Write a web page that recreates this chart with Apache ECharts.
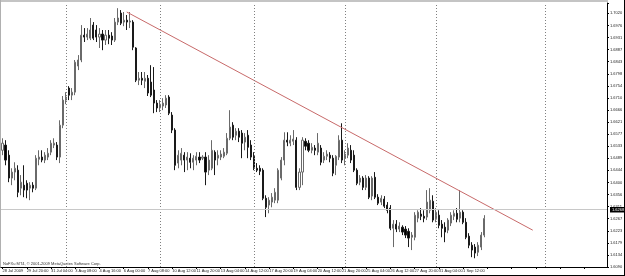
<!DOCTYPE html>
<html><head><meta charset="utf-8">
<script src="https://cdn.jsdelivr.net/npm/echarts@6/dist/echarts.min.js"></script>
<style>html,body{margin:0;padding:0;background:#fff}#c{width:625px;height:276px}</style>
</head><body><div id="c"></div>
<script>
// Tick labels
const xTickLabels = ['28 Jul 2009','29 Jul 20:00','31 Jul 04:00','3 Aug 08:00','4 Aug 16:00','6 Aug 00:00','7 Aug 08:00','10 Aug 12:00','11 Aug 20:00','13 Aug 04:00','14 Aug 12:00','17 Aug 20:00','19 Aug 04:00','20 Aug 12:00','21 Aug 20:00','25 Aug 04:00','26 Aug 12:00','27 Aug 20:00','31 Aug 04:00','1 Sep 12:00'];
const yTickLabels = ['1.6090','1.6134','1.6179','1.6223','1.6267','1.6311','1.6356','1.6400','1.6444','1.6489','1.6533','1.6577','1.6621','1.6666','1.6710','1.6754','1.6798','1.6843','1.6887','1.6931','1.6976','1.7020'];

// H4 candles, one entry per bar
const opens = [1.6518,
1.6537,1.6500,1.6416,1.6438,1.6445,1.6379,1.6390,1.6397,1.6379,1.6390,
1.6379,1.6485,1.6493,1.6482,1.6493,1.6511,1.6537,1.6537,1.6493,1.6610,
1.6702,1.6746,1.6720,1.6731,1.6827,1.6849,1.6940,1.6933,1.6929,1.6977,
1.6959,1.6933,1.6944,1.6922,1.6940,1.6937,1.6922,1.6988,1.7021,1.6988,
1.6995,1.6988,1.6988,1.6893,1.6775,1.6782,1.6771,1.6782,1.6768,1.6739,
1.6691,1.6673,1.6680,1.6684,1.6713,1.6647,1.6592,1.6471,1.6482,1.6500,
1.6482,1.6489,1.6474,1.6482,1.6493,1.6489,1.6493,1.6445,1.6452,1.6511,
1.6489,1.6493,1.6496,1.6507,1.6562,1.6610,1.6573,1.6588,1.6581,1.6548,
1.6573,1.6537,1.6496,1.6452,1.6452,1.6445,1.6342,1.6317,1.6328,1.6335,
1.6335,1.6416,1.6482,1.6555,1.6544,1.6551,1.6555,1.6382,1.6438,1.6551,
1.6544,1.6518,1.6526,1.6511,1.6526,1.6482,1.6496,1.6500,1.6489,1.6463,
1.6493,1.6555,1.6489,1.6500,1.6518,1.6500,1.6445,1.6401,1.6416,1.6382,
1.6416,1.6350,1.6419,1.6346,1.6328,1.6339,1.6317,1.6306,1.6232,1.6247,
1.6229,1.6236,1.6229,1.6221,1.6199,1.6199,1.6269,1.6284,1.6276,1.6273,
1.6298,1.6331,1.6265,1.6280,1.6247,1.6236,1.6225,1.6251,1.6276,1.6287,
1.6269,1.6291,1.6254,1.6203,1.6170,1.6163,1.6144,1.6163,1.6207];
const closes = [1.6544,
1.6482,1.6416,1.6438,1.6452,1.6364,1.6401,1.6372,1.6372,1.6390,1.6379,
1.6489,1.6493,1.6482,1.6500,1.6507,1.6544,1.6544,1.6493,1.6610,1.6702,
1.6713,1.6720,1.6731,1.6841,1.6849,1.6940,1.6933,1.6944,1.6959,1.6929,
1.6933,1.6944,1.6922,1.6940,1.6929,1.6922,1.6988,1.7003,1.6984,1.6995,
1.6988,1.6992,1.6896,1.6775,1.6782,1.6775,1.6782,1.6728,1.6720,1.6691,
1.6673,1.6687,1.6691,1.6709,1.6654,1.6592,1.6463,1.6500,1.6507,1.6482,
1.6493,1.6474,1.6489,1.6496,1.6482,1.6493,1.6438,1.6482,1.6518,1.6482,
1.6500,1.6504,1.6511,1.6562,1.6603,1.6566,1.6588,1.6566,1.6544,1.6566,
1.6529,1.6493,1.6452,1.6445,1.6441,1.6342,1.6309,1.6335,1.6346,1.6364,
1.6445,1.6482,1.6555,1.6548,1.6555,1.6559,1.6382,1.6438,1.6555,1.6533,
1.6518,1.6529,1.6518,1.6544,1.6474,1.6496,1.6504,1.6489,1.6434,1.6496,
1.6555,1.6482,1.6504,1.6526,1.6482,1.6445,1.6397,1.6416,1.6382,1.6416,
1.6346,1.6416,1.6346,1.6324,1.6342,1.6313,1.6298,1.6232,1.6247,1.6229,
1.6240,1.6218,1.6207,1.6196,1.6207,1.6280,1.6291,1.6276,1.6269,1.6328,
1.6335,1.6262,1.6291,1.6243,1.6232,1.6218,1.6262,1.6280,1.6287,1.6265,
1.6291,1.6254,1.6199,1.6170,1.6152,1.6141,1.6170,1.6207,1.6268];
const lows = [1.6500,
1.6463,1.6401,1.6390,1.6408,1.6346,1.6353,1.6346,1.6342,1.6335,1.6364,
1.6372,1.6463,1.6474,1.6471,1.6482,1.6500,1.6526,1.6482,1.6471,1.6599,
1.6687,1.6702,1.6702,1.6720,1.6812,1.6841,1.6915,1.6922,1.6922,1.6922,
1.6915,1.6893,1.6885,1.6904,1.6907,1.6904,1.6915,1.6977,1.6977,1.6973,
1.6959,1.6966,1.6885,1.6768,1.6757,1.6757,1.6746,1.6717,1.6713,1.6654,
1.6658,1.6658,1.6665,1.6673,1.6647,1.6581,1.6445,1.6452,1.6463,1.6438,
1.6445,1.6452,1.6445,1.6463,1.6471,1.6482,1.6390,1.6427,1.6445,1.6427,
1.6463,1.6482,1.6489,1.6500,1.6555,1.6555,1.6555,1.6548,1.6489,1.6518,
1.6489,1.6482,1.6445,1.6438,1.6427,1.6335,1.6273,1.6287,1.6309,1.6324,
1.6324,1.6408,1.6463,1.6533,1.6533,1.6537,1.6372,1.6372,1.6390,1.6518,
1.6511,1.6507,1.6500,1.6500,1.6463,1.6471,1.6482,1.6474,1.6423,1.6427,
1.6482,1.6471,1.6463,1.6489,1.6471,1.6438,1.6390,1.6390,1.6372,1.6372,
1.6339,1.6335,1.6339,1.6317,1.6317,1.6306,1.6287,1.6225,1.6163,1.6218,
1.6218,1.6207,1.6196,1.6163,1.6152,1.6188,1.6254,1.6262,1.6254,1.6262,
1.6287,1.6254,1.6254,1.6232,1.6199,1.6181,1.6214,1.6240,1.6262,1.6254,
1.6254,1.6247,1.6192,1.6159,1.6126,1.6122,1.6130,1.6152,1.6199];
const highs = [1.6562,
1.6555,1.6518,1.6452,1.6474,1.6463,1.6427,1.6463,1.6408,1.6401,1.6401,
1.6500,1.6518,1.6518,1.6511,1.6526,1.6555,1.6562,1.6548,1.6628,1.6717,
1.6731,1.6753,1.6746,1.6849,1.6867,1.6977,1.6966,1.6966,1.7003,1.6988,
1.6977,1.6966,1.6959,1.6959,1.6959,1.6951,1.7003,1.7039,1.7032,1.7025,
1.7014,1.7025,1.6995,1.6896,1.6805,1.6805,1.6805,1.6794,1.6830,1.6823,
1.6702,1.6702,1.6709,1.6720,1.6720,1.6658,1.6599,1.6518,1.6526,1.6511,
1.6511,1.6507,1.6500,1.6511,1.6511,1.6500,1.6511,1.6500,1.6555,1.6518,
1.6518,1.6518,1.6526,1.6581,1.6665,1.6621,1.6599,1.6599,1.6592,1.6581,
1.6592,1.6555,1.6511,1.6471,1.6463,1.6452,1.6353,1.6346,1.6361,1.6379,
1.6452,1.6493,1.6584,1.6584,1.6573,1.6592,1.6566,1.6452,1.6566,1.6562,
1.6555,1.6544,1.6537,1.6581,1.6537,1.6511,1.6518,1.6511,1.6500,1.6500,
1.6573,1.6617,1.6518,1.6544,1.6537,1.6518,1.6452,1.6427,1.6423,1.6427,
1.6423,1.6423,1.6438,1.6357,1.6353,1.6350,1.6328,1.6317,1.6262,1.6262,
1.6254,1.6243,1.6240,1.6232,1.6218,1.6291,1.6298,1.6306,1.6298,1.6372,
1.6379,1.6353,1.6306,1.6298,1.6262,1.6254,1.6269,1.6291,1.6298,1.6306,
1.6372,1.6298,1.6269,1.6214,1.6181,1.6174,1.6181,1.6218,1.6280];

// Week separators (bar slot of first bar of each week) and trendline anchors
const weekStartBars = [21, 52, 83, 113, 143, 179];
const trendLine = [[41, 1.7025], [175, 1.6225]];
const copyrightText = 'NoFXu MT4, \u00A9 2001-2009 MetaQuotes Software Corp.';

const slotCount = 200;
const priceMin = 1.6090, priceMax = 1.7058;
const bid = closes[closes.length - 1];
const categories = Array.from({length: slotCount}, (_, i) => String(i));
const candles = opens.map((o, i) => [o, closes[i], lows[i], highs[i]]);
const labelStep = (parseFloat(yTickLabels[yTickLabels.length - 1]) - parseFloat(yTickLabels[0])) / (yTickLabels.length - 1);
const FONT = 'Liberation Sans';

const chart = echarts.init(document.getElementById('c'), null, {renderer: 'canvas'});
chart.setOption({
  animation: false,
  backgroundColor: '#ffffff',
  grid: {left: 1, right: 18, top: 3, bottom: 9, containLabel: false, outerBoundsMode: 'none'},
  xAxis: {
    type: 'category', data: categories, boundaryGap: true,
    axisLine: {show: true, lineStyle: {color: '#000', width: 1}},
    axisTick: {show: true, alignWithLabel: true, interval: 7, length: 2, lineStyle: {color: '#000'}},
    axisLabel: {interval: 7, align: 'left', margin: 2, fontSize: 4, fontFamily: FONT, color: '#222',
      formatter: (v, idx) => xTickLabels[idx / 8] || ''},
    splitLine: {show: false}
  },
  yAxis: [
    {type: 'value', min: priceMin, max: priceMax, show: false},
    {type: 'value', position: 'right', min: 0, max: (priceMax - priceMin) / labelStep, interval: 1,
     axisLine: {show: true, lineStyle: {color: '#000', width: 1}},
     axisTick: {show: true, length: 2, lineStyle: {color: '#000'}},
     axisLabel: {margin: 3, fontSize: 4, fontFamily: FONT, color: '#222',
       formatter: v => { const k = Math.round(v); return Math.abs(v - k) < 1e-6 && yTickLabels[k] ? yTickLabels[k] : ''; }},
     splitLine: {show: false}}
  ],
  series: [
    {
      type: 'candlestick', yAxisIndex: 0, data: candles, barWidth: 1.6,
      itemStyle: {color: '#ffffff', color0: '#000000', borderColor: '#6a6a6a', borderColor0: '#1a1a1a', borderWidth: 1},
      markLine: {
        silent: true, symbol: 'none', animation: false,
        data: [
          ...weekStartBars.map(b => ({xAxis: b, lineStyle: {color: '#808080', type: [1, 2], width: 1}, label: {show: false}})),
          {yAxis: bid, lineStyle: {color: '#c8c8c8', type: 'solid', width: 1},
           label: {show: true, position: 'end', distance: 3, formatter: () => bid.toFixed(4),
                   backgroundColor: '#000', color: '#fff', fontSize: 4, fontFamily: FONT, padding: [1, 2, 0.5, 2]}}
        ]
      }
    },
    {
      type: 'line', yAxisIndex: 0, data: trendLine, symbol: 'none',
      lineStyle: {color: '#c86a6a', width: 1}, silent: true
    }
  ],
  graphic: [
    {type: 'rect', shape: {x: 0, y: 0, width: 608, height: 2}, style: {fill: '#c4c4c4'}, silent: true},
    {type: 'rect', shape: {x: 0, y: 0, width: 1, height: 268}, style: {fill: '#b0b0b0'}, silent: true},
    {type: 'rect', shape: {x: 624, y: 0, width: 1, height: 276}, style: {fill: '#000'}, silent: true},
    {type: 'rect', shape: {x: 0, y: 275, width: 625, height: 1}, style: {fill: '#000'}, silent: true},
    {type: 'text', left: 3, top: 262, style: {text: copyrightText, fontSize: 4, fontFamily: FONT, fill: '#333'}, silent: true}
  ]
});
</script></body></html>
